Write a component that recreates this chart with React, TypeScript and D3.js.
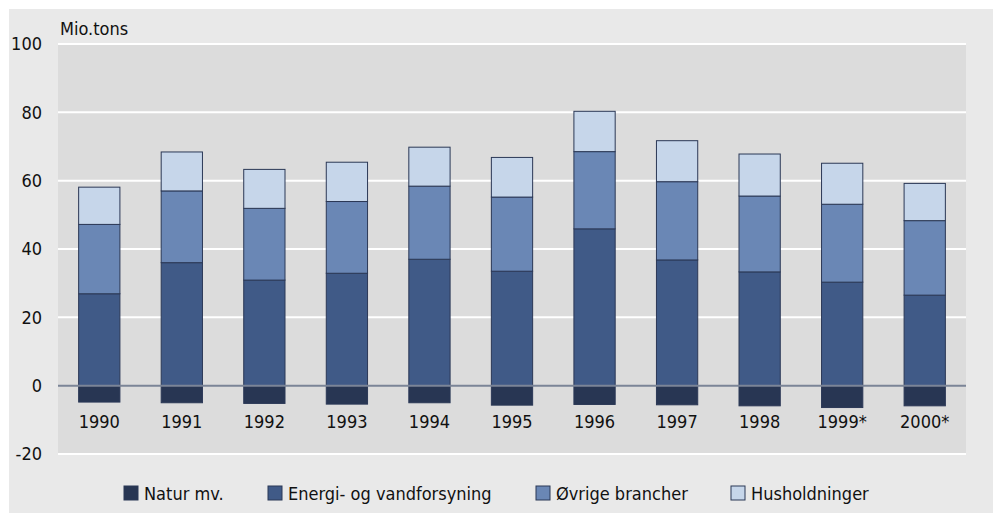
import React from "react";
import * as d3 from "d3";

const years = ["1990", "1991", "1992", "1993", "1994", "1995", "1996", "1997", "1998", "1999*", "2000*"];
const natur = [-4.8, -5.0, -5.2, -5.4, -5.0, -5.7, -5.5, -5.6, -5.9, -6.4, -5.9];
const energi = [26.9, 36.0, 30.9, 32.9, 37.0, 33.5, 45.9, 36.8, 33.3, 30.3, 26.5];
const ovrige = [20.3, 21.0, 21.0, 21.0, 21.4, 21.7, 22.6, 22.9, 22.2, 22.8, 21.8];
const hush = [10.9, 11.4, 11.4, 11.5, 11.4, 11.6, 11.8, 12.0, 12.3, 12.0, 10.9];
const yTicks = [-20, 0, 20, 40, 60, 80, 100];

const keys = ["natur", "energi", "ovrige", "hush"];
const labels = ["Natur mv.", "Energi- og vandforsyning", "Øvrige brancher", "Husholdninger"];
const colors = ["#283653", "#405a87", "#6a87b5", "#c6d6ea"];
const legendX = [124, 268, 536, 731];

const W = 997;
const H = 513;
const FONT = "'Liberation Sans Narrow', 'DejaVu Sans Condensed', 'Liberation Sans', sans-serif";

export default function App() {
  const rows = years.map((y, i) => ({
    year: y,
    natur: natur[i],
    energi: energi[i],
    ovrige: ovrige[i],
    hush: hush[i],
  }));

  const x = d3.scaleBand().domain(years).range([58, 966]).paddingInner(0.5).paddingOuter(0.25);
  const y = d3.scaleLinear().domain([-20, 100]).range([454, 44]);

  const series = d3.stack().keys(keys).offset(d3.stackOffsetDiverging)(rows as any);

  return (
    <svg width={W} height={H} style={{ position: "absolute", left: 0, top: 0 }} fontFamily={FONT}>
      <rect x={9} y={9} width={984} height={H - 9} fill="#e9e9e9" />
      <rect x={58} y={y(100)} width={908} height={y(-20) - y(100)} fill="#dcdcdc" />

      {yTicks.map((t) => (
        <g key={t}>
          {t !== 0 && (
            <line x1={58} x2={966} y1={y(t)} y2={y(t)} stroke="#ffffff" strokeWidth={2} />
          )}
          <text x={42} y={y(t)} dy="0.35em" textAnchor="end" fontSize={18} fill="#111">
            {t}
          </text>
        </g>
      ))}

      <text x={60} y={35} fontSize={18} fill="#111">
        Mio.tons
      </text>

      {series.map((s, si) => (
        <g key={keys[si]}>
          {s.map((d: any) => {
            const top = y(Math.max(d[0], d[1]));
            const bot = y(Math.min(d[0], d[1]));
            return (
              <rect
                key={d.data.year}
                x={x(d.data.year)}
                y={top}
                width={x.bandwidth()}
                height={bot - top}
                fill={colors[si]}
                stroke="#2b3856"
                strokeWidth={1}
              />
            );
          })}
        </g>
      ))}

      <line x1={58} x2={966} y1={y(0)} y2={y(0)} stroke="#7b8597" strokeWidth={2} />

      {years.map((yr) => (
        <text
          key={yr}
          x={(x(yr) as number) + x.bandwidth() / 2}
          y={428}
          textAnchor="middle"
          fontSize={18}
          fill="#111"
        >
          {yr}
        </text>
      ))}

      {labels.map((l, i) => (
        <g key={l}>
          <rect x={legendX[i]} y={486} width={14} height={14} fill={colors[i]} stroke="#2b3856" strokeWidth={1} />
          <text x={legendX[i] + 20} y={500} fontSize={18} fill="#111">
            {l}
          </text>
        </g>
      ))}
    </svg>
  );
}
